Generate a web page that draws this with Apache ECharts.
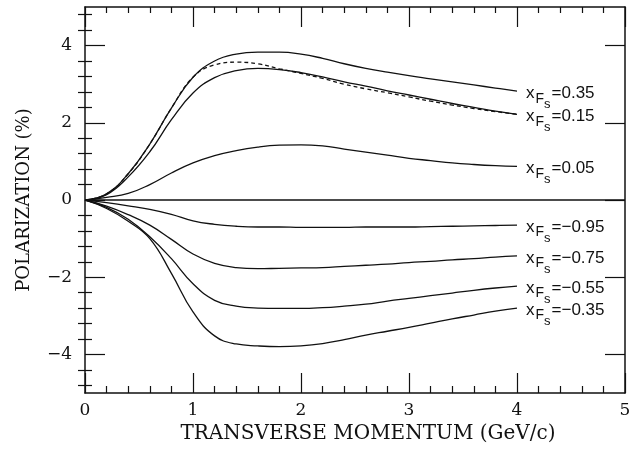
<!DOCTYPE html>
<html>
<head>
<meta charset="utf-8">
<script src="https://cdn.jsdelivr.net/npm/echarts@6/dist/echarts.min.js"></script>
<style>
html,body{margin:0;padding:0;background:#fff;}
#chart{width:634px;height:452px;}
</style>
</head>
<body>
<div id="chart"></div>
<script>
// Transverse momentum sample points (GeV/c)
const pT = [0, 0.2, 0.4, 0.6, 0.8, 1.0, 1.2, 1.4, 1.6, 1.8, 2.0, 2.2, 2.4, 2.6, 2.8, 3.0, 3.2, 3.4, 3.6, 3.8, 4.0];

// Polarization (%) curves
const pol_p35  = [0, 0.16, 0.68, 1.45, 2.38, 3.18, 3.6, 3.78, 3.83, 3.83, 3.78, 3.67, 3.53, 3.41, 3.31, 3.22, 3.14, 3.06, 2.98, 2.9, 2.82];
const pol_p15  = [0, 0.14, 0.6, 1.25, 2.08, 2.77, 3.17, 3.35, 3.41, 3.38, 3.3, 3.19, 3.06, 2.95, 2.83, 2.72, 2.61, 2.5, 2.4, 2.3, 2.22];
const pol_dash = [0, 0.16, 0.68, 1.45, 2.38, 3.18, 3.5, 3.57, 3.53, 3.4, 3.28, 3.15, 3.0, 2.88, 2.78, 2.67, 2.56, 2.46, 2.37, 2.29, 2.22];
const pol_p05  = [0, 0.07, 0.17, 0.4, 0.7, 0.96, 1.15, 1.28, 1.37, 1.42, 1.43, 1.4, 1.32, 1.24, 1.16, 1.08, 1.02, 0.96, 0.92, 0.89, 0.87];
const pol_m95  = [0, -0.07, -0.15, -0.24, -0.37, -0.54, -0.63, -0.68, -0.7, -0.7, -0.71, -0.71, -0.71, -0.7, -0.7, -0.7, -0.69, -0.68, -0.67, -0.66, -0.65];
const pol_m75  = [0, -0.16, -0.38, -0.65, -1.02, -1.4, -1.64, -1.75, -1.78, -1.77, -1.76, -1.75, -1.72, -1.69, -1.66, -1.62, -1.59, -1.55, -1.52, -1.48, -1.45];
const pol_m55  = [0, -0.19, -0.5, -0.95, -1.52, -2.17, -2.6, -2.75, -2.8, -2.81, -2.81, -2.79, -2.75, -2.7, -2.62, -2.55, -2.48, -2.41, -2.34, -2.28, -2.23];
const pol_m35  = [0, -0.22, -0.55, -1.0, -1.9, -2.9, -3.52, -3.73, -3.78, -3.8, -3.78, -3.72, -3.62, -3.5, -3.4, -3.3, -3.19, -3.08, -2.98, -2.88, -2.8];

// Curve labels (x_Fs values)
const xfLabels = ['0.35', '0.15', '0.05', '\u22120.95', '\u22120.75', '\u22120.55', '\u22120.35'];

// Axis ticks
const xTickLabels = [0, 1, 2, 3, 4, 5];
const yMajor = [-4, -2, 0, 2, 4];
const yMinor = [-4.8, -4.4, -3.6, -3.2, -2.8, -2.4, -1.6, -1.2, -0.8, -0.4, 0.4, 0.8, 1.2, 1.6, 2.4, 2.8, 3.2, 3.6, 4.4, 4.8];

const INK = '#111';
const serif = 'DejaVu Serif';
const sans = 'Liberation Sans';

function pairs(ys) { return pT.map((x, i) => [x, ys[i]]); }

const richLabel = {
  x: { fontFamily: sans, fontSize: 17, lineHeight: 17, verticalAlign: 'top', color: INK, padding: [0, 1, 0, 0] },
  F: { fontFamily: sans, fontSize: 14, lineHeight: 14, verticalAlign: 'top', color: INK, padding: [7, 0, 0, 0] },
  s: { fontFamily: sans, fontSize: 13, lineHeight: 13, verticalAlign: 'top', color: INK, padding: [13, 1, 0, 0] },
  v: { fontFamily: sans, fontSize: 17, lineHeight: 17, verticalAlign: 'top', color: INK }
};

function curve(ys, label, dashed) {
  const s = {
    type: 'line',
    data: pairs(ys),
    smooth: 0.45,
    showSymbol: false,
    symbol: 'none',
    lineStyle: { color: INK, width: 1.3, type: dashed ? [4, 3] : 'solid' },
    silent: true,
    z: 3
  };
  if (label) {
    s.endLabel = {
      show: true,
      distance: 9,
      offset: [0, 2],
      formatter: () => '{x|x}{F|F}{s|s}{v|=' + label + '}',
      rich: richLabel
    };
  }
  return s;
}

const commonLine = { show: true, onZero: false, lineStyle: { color: INK, width: 1.5 } };

const chart = echarts.init(document.getElementById('chart'), null, { renderer: 'canvas' });
chart.setOption({
  animation: false,
  backgroundColor: '#fff',
  grid: { left: 85, right: 9, top: 7, bottom: 59, containLabel: false },
  xAxis: [
    {
      type: 'value', position: 'bottom', min: 0, max: 5, interval: 1,
      axisLine: commonLine,
      axisTick: { show: true, inside: true, length: 20, lineStyle: { color: INK, width: 1.2 } },
      minorTick: { show: true, splitNumber: 5, length: 7, lineStyle: { color: INK, width: 1.2 } },
      splitLine: { show: false }, minorSplitLine: { show: false },
      axisLabel: {
        show: true, margin: 9, color: INK, fontFamily: serif, fontSize: 17,
        customValues: xTickLabels
      },
      name: 'TRANSVERSE MOMENTUM (GeV/c)',
      nameLocation: 'middle', nameGap: 26,
      nameTextStyle: { color: INK, fontFamily: serif, fontSize: 20, padding: [0, 0, 0, 26] }
    },
    {
      type: 'value', position: 'top', min: 0, max: 5, interval: 1,
      axisLine: commonLine,
      axisTick: { show: true, inside: true, length: 20, lineStyle: { color: INK, width: 1.2 } },
      minorTick: { show: true, splitNumber: 5, length: 6, lineStyle: { color: INK, width: 1.2 } },
      splitLine: { show: false }, minorSplitLine: { show: false },
      axisLabel: { show: false }
    }
  ],
  yAxis: [
    {
      type: 'value', position: 'left', offset: 0, min: -5, max: 5,
      axisLine: commonLine,
      axisTick: { show: true, inside: true, length: 20, customValues: yMajor, lineStyle: { color: INK, width: 1.2 } },
      splitLine: { show: false },
      axisLabel: {
        show: true, margin: 13, color: INK, fontFamily: serif, fontSize: 17,
        customValues: yMajor,
        formatter: v => (v < 0 ? '\u2212' + Math.abs(v) : String(v))
      },
      name: 'POLARIZATION (%)',
      nameLocation: 'middle', nameGap: 52,
      nameTextStyle: { color: INK, fontFamily: serif, fontSize: 18 }
    },
    {
      type: 'value', position: 'left', offset: 0, min: -5, max: 5,
      axisLine: { show: false },
      axisTick: { show: true, inside: true, length: 7, customValues: yMinor, lineStyle: { color: INK, width: 1.2 } },
      splitLine: { show: false },
      axisLabel: { show: false }
    },
    {
      type: 'value', position: 'right', offset: 0, min: -5, max: 5,
      axisLine: commonLine,
      axisTick: { show: true, inside: true, length: 20, customValues: yMajor, lineStyle: { color: INK, width: 1.2 } },
      splitLine: { show: false },
      axisLabel: { show: false }
    },
    {
      type: 'value', position: 'right', offset: 0, min: -5, max: 5,
      axisLine: { show: false },
      axisTick: { show: true, inside: true, length: 7, customValues: yMinor, lineStyle: { color: INK, width: 1.2 } },
      splitLine: { show: false },
      axisLabel: { show: false }
    }
  ],
  series: [
    {
      type: 'line', data: [[0, 0], [5, 0]], showSymbol: false, symbol: 'none', silent: true,
      lineStyle: { color: INK, width: 1.3 }, z: 2
    },
    curve(pol_p35, xfLabels[0]),
    curve(pol_p15, xfLabels[1]),
    curve(pol_dash, null, true),
    curve(pol_p05, xfLabels[2]),
    curve(pol_m95, xfLabels[3]),
    curve(pol_m75, xfLabels[4]),
    curve(pol_m55, xfLabels[5]),
    curve(pol_m35, xfLabels[6])
  ]
});
</script>
</body>
</html>
